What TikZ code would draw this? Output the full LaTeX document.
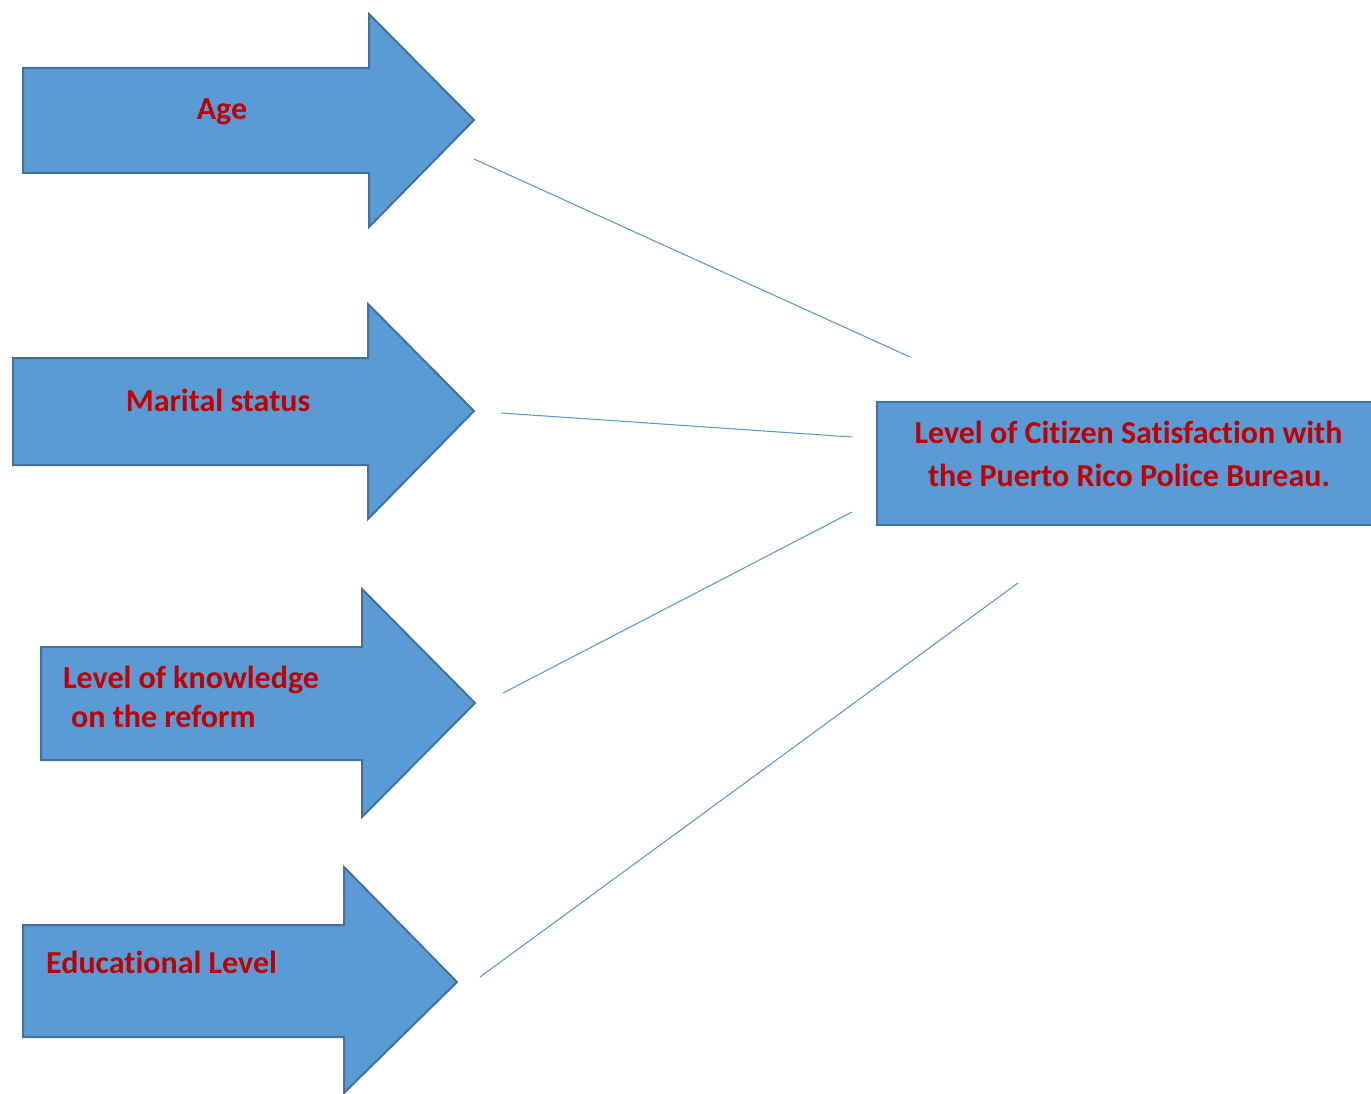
\documentclass[tikz,border=0pt]{standalone}
\usepackage{fontspec}
\setmainfont[Ligatures={NoCommon}]{Carlito}
\definecolor{arrowfill}{HTML}{5B9BD5}
\definecolor{arrowedge}{HTML}{41719C}
\definecolor{labelred}{HTML}{C00000}
\begin{document}
\begin{tikzpicture}[x=1pt,y=-1pt,
  arrowshape/.style={fill=arrowfill,draw=arrowedge,line width=2pt,line join=miter},
  boxshape/.style={fill=arrowfill,draw=arrowedge,line width=2pt},
  lbl/.style={text=labelred,font=\fontsize{32}{42}\selectfont\bfseries,inner sep=0pt},
  link/.style={draw=arrowfill,line width=1.1pt}]
\useasboundingbox (0,0) rectangle (1371,1094);
\clip (0,0) rectangle (1371,1094);
% arrows
\draw[arrowshape] (23,68) -- (369,68) -- (369,14) -- (474,120) -- (369,227) -- (369,173) -- (23,173) -- cycle;
\draw[arrowshape] (13,358) -- (368,358) -- (368,304) -- (474,411) -- (368,519) -- (368,465) -- (13,465) -- cycle;
\draw[arrowshape] (41,647) -- (362,647) -- (362,589) -- (475,703) -- (362,817) -- (362,760) -- (41,760) -- cycle;
\draw[arrowshape] (23,925) -- (344,925) -- (344,867) -- (457,982) -- (344,1093) -- (344,1037) -- (23,1037) -- cycle;
% box
\draw[boxshape] (877,402) rectangle (1390,525);
% labels
\node[lbl,anchor=base] (age) at (222,120) {Age};
\node[lbl,anchor=base] (marital) at (218,411) {Marital status};
\node[lbl,anchor=base west] (know1) at (63,688) {Level of knowledge};
\node[lbl,anchor=base west] (know2) at (71,727) {on the reform};
\node[lbl,anchor=base west] (edu) at (46,973) {Educational Level};
\node[lbl,anchor=base] (sat1) at (1128.5,443) {Level of Citizen Satisfaction with};
\node[lbl,anchor=base] (sat2) at (1129,486) {the Puerto Rico Police Bureau.};
% connectors
\coordinate (a1) at (474,159); \coordinate (b1) at (910,357);
\coordinate (a2) at (501,413); \coordinate (b2) at (852,437);
\coordinate (a3) at (503,693); \coordinate (b3) at (852,512);
\coordinate (a4) at (480,977); \coordinate (b4) at (1018,583);
\draw[link] (a1) -- (b1);
\draw[link] (a2) -- (b2);
\draw[link] (a3) -- (b3);
\draw[link] (a4) -- (b4);
\end{tikzpicture}
\end{document}
